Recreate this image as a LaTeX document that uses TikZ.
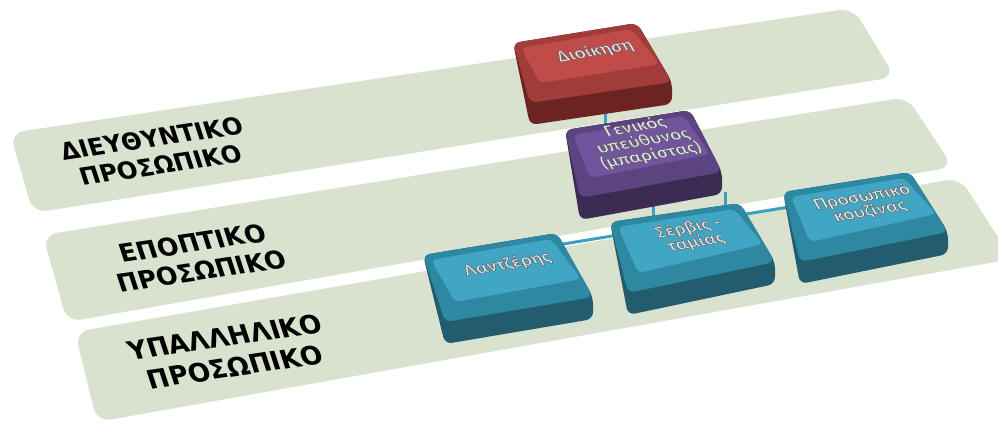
\documentclass[tikz,border=0pt]{standalone}
\usepackage{fontspec}
\usetikzlibrary{calc}
\newfontfamily\labelfont{DejaVu Sans}
\newfontfamily\capfont{Carlito}

\definecolor{band}{RGB}{216,226,206}
\definecolor{linkteal}{RGB}{60,160,190}
\definecolor{captext}{RGB}{228,228,228}
\definecolor{redside}{RGB}{108,36,34}
\definecolor{redbevel}{RGB}{160,60,57}
\definecolor{redtop}{RGB}{191,76,73}
\definecolor{purpleside}{RGB}{60,44,84}
\definecolor{purplebevel}{RGB}{92,68,128}
\definecolor{purpletop}{RGB}{114,84,156}
\definecolor{tealside}{RGB}{34,92,110}
\definecolor{tealbevel}{RGB}{46,136,162}
\definecolor{tealtop}{RGB}{64,166,195}

% raised grey lettering: light fill with a dark rim
\newcommand{\emb}[1]{\special{pdf:literal direct 2 Tr 0.5 w 0.35 0.35 0.35 RG}#1\special{pdf:literal direct 0 Tr}}

% bevelled box from the corners #1-tl, #1-tr, #1-br, #1-bl
\newcommand{\keycap}[2]{%
  \fill[#2side, rounded corners=7pt] (#1-tl) -- (#1-tr) -- (#1-br) -- ([yshift=-22pt]#1-br) -- ([yshift=-22pt]#1-bl) -- cycle;
  \fill[#2bevel, rounded corners=7pt] (#1-tl) -- (#1-tr) -- (#1-br) -- (#1-bl) -- cycle;
  \fill[#2top, rounded corners=5pt] ($(#1-tl)+(8,5)$) -- ($(#1-tr)+(-6,6)$) -- ($(#1-br)+(-12,-18)$) -- ($(#1-bl)+(10,-20)$) -- cycle;
}

\begin{document}
\begin{tikzpicture}[x=1pt, y=-1pt,
    link/.style={draw=linkteal, line width=3pt},
    bandlabel/.style={align=center, rotate=8.5, xslant=-0.17},
    captxt/.style={font=\capfont\bfseries\fontsize{20}{18}\selectfont, text=captext, align=center, rotate=10, xslant=-0.35, yscale=0.85, inner sep=0pt}]
    \clip (0,0) rectangle (998,423);

    % levels
    \fill[band, rounded corners=14pt] (10,133) -- (853,8) -- (895,77) -- (33,213) -- cycle;
    \fill[band, rounded corners=14pt] (43,235) -- (907,97) -- (953,167) -- (67,322) -- cycle;
    \fill[band, rounded corners=14pt] (75,332) -- (960,178) -- (1012,259) -- (97,422) -- cycle;

    \node (lvl1) [bandlabel, font=\labelfont\bfseries\fontsize{24}{28}\selectfont] at (156,152) {ΔΙΕΥΘΥΝΤΙΚΟ\\ΠΡΟΣΩΠΙΚΟ};
    \node (lvl2) [bandlabel, font=\labelfont\bfseries\fontsize{25}{29}\selectfont] at (197,257) {ΕΠΟΠΤΙΚΟ\\ΠΡΟΣΩΠΙΚΟ};
    \node (lvl3) [bandlabel, font=\labelfont\bfseries\fontsize{26}{31}\selectfont] at (230,352) {ΥΠΑΛΛΗΛΙΚΟ\\ΠΡΟΣΩΠΙΚΟ};

    % box corners
    \coordinate (dioikisi-tl) at (513,43);  \coordinate (dioikisi-tr) at (637,23);
    \coordinate (dioikisi-br) at (672,82);  \coordinate (dioikisi-bl) at (530,103);
    \coordinate (genikos-tl) at (565,130);  \coordinate (genikos-tr) at (690,110);
    \coordinate (genikos-br) at (722,172);  \coordinate (genikos-bl) at (580,198);
    \coordinate (lantz-tl) at (423,255);    \coordinate (lantz-tr) at (557,233);
    \coordinate (lantz-br) at (593,297);    \coordinate (lantz-bl) at (445,322);
    \coordinate (servis-tl) at (610,222);   \coordinate (servis-tr) at (740,203);
    \coordinate (servis-br) at (775,262);   \coordinate (servis-bl) at (628,293);
    \coordinate (kouz-tl) at (783,192);     \coordinate (kouz-tr) at (910,172);
    \coordinate (kouz-br) at (948,232);     \coordinate (kouz-bl) at (800,262);

    % connector ends
    \coordinate (dioikisi-s) at (605,105);
    \coordinate (genikos-n) at (605,135);
    \coordinate (genikos-s) at (653,200);
    \coordinate (genikos-se) at (725,192);
    \coordinate (bus-c) at (653,229);
    \coordinate (bus-r) at (725,217);
    \coordinate (bus-w) at (545,247);
    \coordinate (bus-e) at (795,206);

    \draw[link] (dioikisi-s) -- (genikos-n);
    \draw[link] (genikos-s) -- (bus-c);
    \draw[link] (genikos-se) -- (bus-r);
    \draw[link] (bus-w) -- (bus-e);

    % boxes
    \keycap{dioikisi}{red}
    \keycap{genikos}{purple}
    \keycap{lantz}{teal}
    \keycap{servis}{teal}
    \keycap{kouz}{teal}

    \node (dioikisi) [captxt] at (595,51) {\emb{Διοίκηση}};
    \node (genikos) [captxt] at (643,141) {\emb{Γενικός}\\\emb{υπεύθυνος}\\\emb{(μπαρίστας)}};
    \node (lantz) [captxt] at (507,264) {\emb{Λαντζέρης}};
    \node (servis) [captxt] at (692,235) {\emb{Σέρβις -}\\\emb{ταμίας}};
    \node (kouz) [captxt] at (866,204) {\emb{Προσωπικό}\\\emb{κουζίνας}};
\end{tikzpicture}
\end{document}
